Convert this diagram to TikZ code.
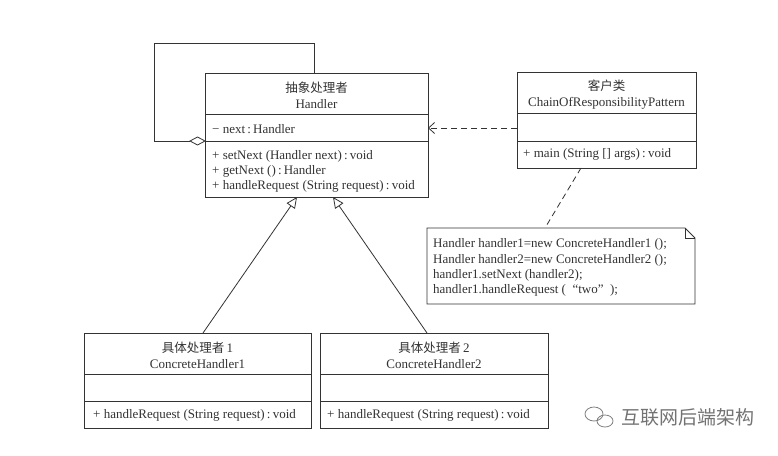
\documentclass[tikz,border=0pt]{standalone}
\usepackage{fontspec}
\setmainfont{Liberation Serif}
\newfontfamily\cjk{Noto Sans CJK SC}
\usetikzlibrary{arrows.meta,calc}
\definecolor{ink}{HTML}{333333}
\tikzset{
  x=1pt, y=-1pt,
  box/.style={draw=ink, line width=0.9pt, anchor=north west, inner sep=0pt},
  divider/.style={draw=ink, line width=0.9pt},
  txt/.style={text=ink, font=\fontsize{13}{15}\selectfont, inner sep=0pt},
  ltxt/.style={txt, anchor=west},
  conn/.style={draw=ink, line width=0.8pt},
}
\begin{document}
\begin{tikzpicture}
\useasboundingbox[fill=white] (0,0) rectangle (778,455);

% Handler
\node[box, minimum width=223pt, minimum height=124pt] (handler) at (205,73) {};
\draw[divider] (205,114) -- (428,114);
\draw[divider] (205,141) -- (428,141);
\node[txt] (h1) at (316.5,88) {{\cjk\fontsize{12.5}{15}\selectfont 抽象处理者}};
\node[txt] (h2) at (316.5,104) {Handler};
\node[ltxt] (h3) at (212,129) {\textminus\ next\,:\,Handler};
\node[ltxt] (h4) at (212,156) {+ setNext (Handler next)\,:\,void};
\node[ltxt] (h5) at (212,171) {+ getNext ()\,:\,Handler};
\node[ltxt] (h6) at (212,186) {+ handleRequest (String request)\,:\,void};

% Client
\node[box, minimum width=179pt, minimum height=96pt] (client) at (517,72) {};
\draw[divider] (517,113) -- (696,113);
\draw[divider] (517,141) -- (696,141);
\node[txt] (c1) at (606.5,86) {{\cjk\fontsize{12.5}{15}\selectfont 客户类}};
\node[txt] (c2) at (606.5,103) {ChainOfResponsibilityPattern};
\node[ltxt] (c3) at (523,154) {+ main (String [] args)\,:\,void};

% Note
\coordinate (nA) at (427,228);
\coordinate (nB) at (685,228);
\coordinate (nC) at (695,238);
\coordinate (nD) at (695,304);
\coordinate (nE) at (427,304);
\draw[conn, line width=0.9pt] (nA) -- (nB) -- (nC) -- (nD) -- (nE) -- cycle;
\draw[conn, line width=0.7pt] (nB) -- (685,238) -- (nC);
\node[ltxt] (n1) at (433,244) {Handler handler1=new ConcreteHandler1 ();};
\node[ltxt] (n2) at (433,260) {Handler handler2=new ConcreteHandler2 ();};
\node[ltxt] (n3) at (433,275) {handler1.setNext (handler2);};
\node[ltxt] (n4) at (433,290) {handler1.handleRequest (\ \ “two”\ \ );};

% Concrete 1
\node[box, minimum width=227pt, minimum height=95pt] (con1) at (84,333) {};
\draw[divider] (84,374) -- (311,374);
\draw[divider] (84,401) -- (311,401);
\node[txt] (k1) at (197.5,348) {{\cjk\fontsize{12.5}{15}\selectfont 具体处理者}\,1};
\node[txt] (k2) at (197.5,364) {ConcreteHandler1};
\node[ltxt] (k3) at (93,415) {+ handleRequest (String request)\,:\,void};

% Concrete 2
\node[box, minimum width=228pt, minimum height=95pt] (con2) at (320,333) {};
\draw[divider] (320,374) -- (548,374);
\draw[divider] (320,401) -- (548,401);
\node[txt] (m1) at (434,348) {{\cjk\fontsize{12.5}{15}\selectfont 具体处理者}\,2};
\node[txt] (m2) at (434,364) {ConcreteHandler2};
\node[ltxt] (m3) at (327,415) {+ handleRequest (String request)\,:\,void};

% Connectors
\coordinate (g1s) at (203,333);
\coordinate (g1e) at (297,197);
\coordinate (g2s) at (427,333);
\coordinate (g2e) at (333,197);
\draw[conn, -{Triangle[open, length=11pt, width=10pt]}] (g1s) -- (g1e);
\draw[conn, -{Triangle[open, length=11pt, width=10pt]}] (g2s) -- (g2e);

\coordinate (dep) at (517,128);
\coordinate (depE) at (428,128);
\draw[conn, dash pattern=on 6pt off 4pt, -{Straight Barb[length=6pt, width=11pt]}] (dep) -- (depE);

\coordinate (cb) at (581,168);
\coordinate (nt) at (545,228);
\draw[conn, dash pattern=on 6pt off 4pt] (cb) -- (nt);

% self loop aggregation
\coordinate (lp1) at (314,73);
\coordinate (lp2) at (314,43);
\coordinate (lp3) at (154,43);
\coordinate (lp4) at (154,141);
\coordinate (lp6) at (190,141);
\coordinate (lp5) at (205,141);
\draw[conn] (lp1) -- (lp2) -- (lp3) -- (lp4) -- (lp6);
\draw[conn] (lp5) -- (197.5,137) -- (lp6) -- (197.5,145) -- cycle;

% watermark
\node[text=black!55, font=\cjk\fontsize{19}{19}\selectfont, anchor=west, inner sep=0pt] (wm) at (621,417) {互联网后端架构};
\draw[black!50, line width=0.8pt] (594,414) ellipse (9pt and 7pt);
\draw[black!50, line width=0.8pt] (605,421) ellipse (8pt and 6pt);
\end{tikzpicture}
\end{document}
